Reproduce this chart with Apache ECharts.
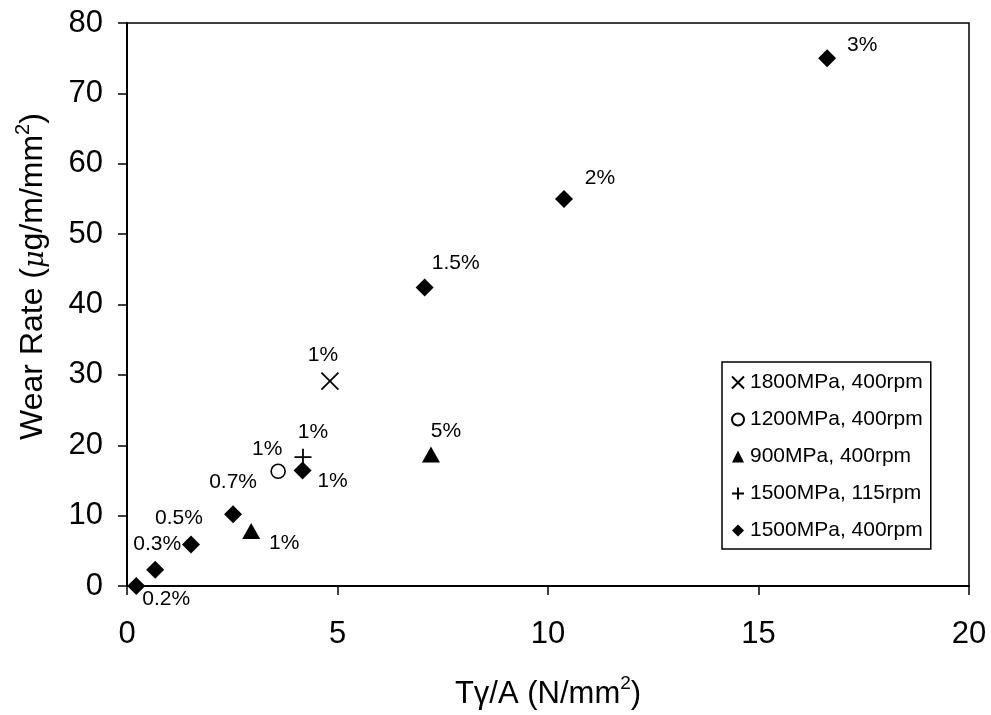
<!DOCTYPE html>
<html>
<head>
<meta charset="utf-8">
<script src="https://cdn.jsdelivr.net/npm/echarts@6/dist/echarts.min.js"></script>
<style>html,body{margin:0;padding:0;background:#fff}#c{width:991px;height:715px}</style>
</head>
<body>
<div id="c"></div>
<script>
// ---- data ----
const xTicks = [0, 5, 10, 15, 20];
const yTicks = [0, 10, 20, 30, 40, 50, 60, 70, 80];

const s1800Name = '1800MPa, 400rpm';
const s1800X = [4.82];
const s1800Y = [29.1];
const s1800Labels = ['1%'];

const s1200Name = '1200MPa, 400rpm';
const s1200X = [3.59];
const s1200Y = [16.3];
const s1200Labels = ['1%'];

const s900Name = '900MPa, 400rpm';
const s900X = [2.95, 7.22];
const s900Y = [7.8, 18.7];
const s900Labels = ['1%', '5%'];

const s1500lowName = '1500MPa, 115rpm';
const s1500lowX = [4.18];
const s1500lowY = [18.3];
const s1500lowLabels = ['1%'];

const s1500Name = '1500MPa, 400rpm';
const s1500X = [0.22, 0.67, 1.52, 2.52, 4.17, 7.07, 10.38, 16.63];
const s1500Y = [0.0, 2.3, 5.9, 10.2, 16.4, 42.4, 55.0, 75.0];
const s1500Labels = ['0.2%', '0.3%', '0.5%', '0.7%', '1%', '1.5%', '2%', '3%'];

// ---- label placement (styling, pixel offsets from marker centre) ----
const off1800 = [[-7, -26]];
const off1200 = [[-11, -22]];
const off900 = [[33, 12], [15, -23]];
const off1500low = [[10, -25]];
const off1500 = [[30, 13], [2, -26], [-12, -26], [0, -32], [30, 11], [31, -24], [36, -21], [35, -13]];

const FONT = '"Liberation Sans", Arial, Helvetica, sans-serif';

function build(xs, ys, labels, offs) {
  return xs.map((x, i) => ({
    value: [x, ys[i]],
    name: labels[i],
    label: { offset: offs[i] }
  }));
}

const baseLabel = {
  show: true,
  position: 'inside',
  formatter: '{b}',
  color: '#000',
  fontSize: 21,
  fontFamily: FONT,
  opacity: 1
};

const chart = echarts.init(document.getElementById('c'), null, { renderer: 'canvas' });

const option = {
  animation: false,
  backgroundColor: '#fff',
  grid: {
    left: 127, right: 22, top: 23, bottom: 128,
    show: true, borderColor: '#000', borderWidth: 1.5, backgroundColor: 'transparent'
  },
  legend: {
    orient: 'vertical',
    left: 722, top: 362,
    padding: [10, 8, 8, 9],
    itemWidth: 12, itemHeight: 12,
    itemGap: 16,
    borderColor: '#000', borderWidth: 1.5,
    backgroundColor: '#fff',
    textStyle: { color: '#000', fontSize: 21, fontFamily: FONT, padding: [0, 0, 0, 1] },
    data: [s1800Name, s1200Name, s900Name, s1500lowName, s1500Name]
  },
  xAxis: {
    type: 'value',
    min: 0, max: 20, interval: 5,
    name: '{t|Tγ/A (N/mm}{s|2}{t|)}',
    nameLocation: 'middle',
    nameGap: 88,
    nameTextStyle: {
      rich: {
        t: { fontSize: 31, fontFamily: FONT, color: '#000', lineHeight: 36, verticalAlign: 'bottom' },
        s: { fontSize: 19, fontFamily: FONT, color: '#000', lineHeight: 19, verticalAlign: 'top' }
      }
    },
    axisLine: { show: true, onZero: false, lineStyle: { color: '#000', width: 2 } },
    axisTick: { show: true, inside: false, length: 9, lineStyle: { color: '#000', width: 1.5 } },
    axisLabel: {
      color: '#000', fontSize: 31, fontFamily: FONT, margin: 33,
      formatter: v => xTicks.includes(v) ? String(v) : ''
    },
    splitLine: { show: false }
  },
  yAxis: {
    type: 'value',
    min: 0, max: 80, interval: 10,
    name: '{t|Wear Rate (}{m|μ}{t|g/m/mm}{s|2}{t|)}',
    nameLocation: 'middle',
    nameGap: 78,
    nameTextStyle: {
      padding: [0, 0, 0, 56],
      rich: {
        t: { fontSize: 32, fontFamily: FONT, color: '#000', lineHeight: 36, verticalAlign: 'bottom' },
        m: { fontSize: 27, fontFamily: '"DejaVu Serif", serif', fontStyle: 'italic', color: '#000', lineHeight: 36, verticalAlign: 'bottom' },
        s: { fontSize: 20, fontFamily: FONT, color: '#000', lineHeight: 20, verticalAlign: 'top' }
      }
    },
    axisLine: { show: true, onZero: false, lineStyle: { color: '#000', width: 2 } },
    axisTick: { show: true, inside: false, length: 9, lineStyle: { color: '#000', width: 1.5 } },
    axisLabel: {
      color: '#000', fontSize: 31, fontFamily: FONT, margin: 24,
      formatter: v => yTicks.includes(v) ? String(v) : ''
    },
    splitLine: { show: false }
  },
  series: [
    {
      name: s1800Name, type: 'scatter',
      symbol: 'path://M0,0L10,10M10,0L0,10', symbolSize: 17,
      itemStyle: { color: 'rgba(0,0,0,0)', borderColor: '#000', borderWidth: 1.8, opacity: 1 },
      label: baseLabel,
      data: build(s1800X, s1800Y, s1800Labels, off1800)
    },
    {
      name: s1200Name, type: 'scatter',
      symbol: 'circle', symbolSize: 14,
      itemStyle: { color: '#fff', borderColor: '#000', borderWidth: 1.6, opacity: 1 },
      label: baseLabel,
      data: build(s1200X, s1200Y, s1200Labels, off1200)
    },
    {
      name: s900Name, type: 'scatter',
      symbol: 'triangle', symbolSize: [18, 16],
      itemStyle: { color: '#000', opacity: 1 },
      label: baseLabel,
      data: build(s900X, s900Y, s900Labels, off900)
    },
    {
      name: s1500lowName, type: 'scatter',
      symbol: 'path://M5,0L5,10M0,5L10,5', symbolSize: 17,
      itemStyle: { color: 'rgba(0,0,0,0)', borderColor: '#000', borderWidth: 1.8, opacity: 1 },
      label: baseLabel,
      data: build(s1500lowX, s1500lowY, s1500lowLabels, off1500low)
    },
    {
      name: s1500Name, type: 'scatter',
      symbol: 'diamond', symbolSize: 18,
      itemStyle: { color: '#000', opacity: 1 },
      label: baseLabel,
      data: build(s1500X, s1500Y, s1500Labels, off1500)
    }
  ]
};

chart.setOption(option);
</script>
</body>
</html>
